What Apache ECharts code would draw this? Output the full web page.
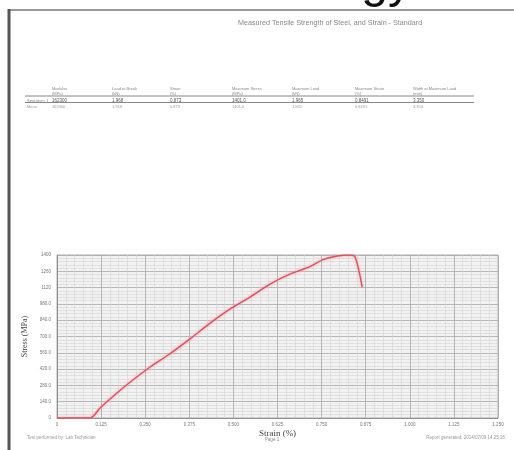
<!DOCTYPE html>
<html>
<head>
<meta charset="utf-8">
<script src="https://cdn.jsdelivr.net/npm/echarts@6/dist/echarts.min.js"></script>
<style>html,body{margin:0;padding:0;background:#fff;}#c{width:514px;height:450px;}</style>
</head>
<body>
<div id="c"></div>
<script>
// ---- data ----
const strainPct = [0, 0.0935, 0.122, 0.170, 0.215, 0.264, 0.315, 0.377, 0.434, 0.490, 0.547, 0.604, 0.660, 0.717, 0.754, 0.794, 0.830, 0.845, 0.865];
const stressMPa = [0, 0, 86, 215, 326, 438, 541, 680, 815, 935, 1039, 1150, 1235, 1300, 1360, 1391, 1400, 1383, 1125];
const xTicks = { min: 0, max: 1.25, step: 0.125 };
const yTicks = { min: 0, max: 1400, step: 140 };
const tableHeaders = ['Modulus', 'Load at Break', 'Strain', 'Maximum Stress', 'Maximum Load', 'Maximum Strain', 'Width at Maximum Load'];
const tableUnits = ['(MPa)', '(kN)', '(%)', '(MPa)', '(kN)', '(%)', '(mm)'];
const rowLabels = ['Specimen 1', 'Mean'];
const row1 = ['162300', '1.968', '0.873', '1401.0', '1.965', '0.8491', '3.350'];
const row2 = ['162300', '1.968', '0.873', '1401.0', '1.965', '0.8491', '3.350'];
const titleText = 'Measured Tensile Strength of Steel, and Strain - Standard';

// ---- layout ----
const colX = [52, 112, 170, 232, 292, 355, 413];
const graphics = [];
graphics.push({type:'line', shape:{x1:8, y1:10, x2:514, y2:10}, style:{stroke:'#9a9a9a', lineWidth:2}});
graphics.push({type:'line', shape:{x1:9, y1:9, x2:9, y2:450}, style:{stroke:'#555', lineWidth:3}});
graphics.push({type:'text', x:412, y:-40, style:{text:'Technology', font:'48px "Liberation Sans"', fill:'#111', align:'right', verticalAlign:'top'}});
graphics.push({type:'text', x:238, y:20, style:{text:titleText, font:'7.2px "Liberation Sans"', fill:'#888'}});
graphics.push({type:'line', shape:{x1:25, y1:96, x2:474, y2:96}, style:{stroke:'#888', lineWidth:1}});
graphics.push({type:'line', shape:{x1:25, y1:102.5, x2:474, y2:102.5}, style:{stroke:'#888', lineWidth:1}});
tableHeaders.forEach((h,i)=>{
  graphics.push({type:'text', x:colX[i], y:87, style:{text:h, font:'4px "Liberation Sans"', fill:'#888'}});
  graphics.push({type:'text', x:colX[i], y:91.5, style:{text:tableUnits[i], font:'4px "Liberation Sans"', fill:'#888'}});
  graphics.push({type:'text', x:colX[i], y:98.5, style:{text:row1[i], font:'4.5px "Liberation Sans"', fill:'#555'}});
  graphics.push({type:'text', x:colX[i], y:104.5, style:{text:row2[i], font:'4px "Liberation Sans"', fill:'#999'}});
});
graphics.push({type:'text', x:27, y:99, style:{text:rowLabels[0], font:'4px "Liberation Sans"', fill:'#888'}});
graphics.push({type:'text', x:27, y:104.5, style:{text:rowLabels[1], font:'4px "Liberation Sans"', fill:'#999'}});
graphics.push({type:'text', x:27, y:435, style:{text:'Test performed by: Lab Technician', font:'4.5px "Liberation Sans"', fill:'#999'}});
graphics.push({type:'text', x:272, y:437.5, style:{text:'Page 1', font:'4.5px "Liberation Sans"', fill:'#888', align:'center'}});
graphics.push({type:'text', x:505, y:435, style:{text:'Report generated: 2014/07/09 14:25:36', font:'4.5px "Liberation Sans"', fill:'#999', align:'right'}});

const chart = echarts.init(document.getElementById('c'), null, {renderer:'canvas'});
chart.setOption({
  animation: false,
  backgroundColor: '#fff',
  grid: {left:57, right:16, top:255, bottom:32, show:true, backgroundColor:'#f2f2f2', borderColor:'#999', borderWidth:0.8},
  xAxis: {
    type:'value', min:xTicks.min, max:xTicks.max, interval:xTicks.step,
    name:'Strain (%)', nameLocation:'middle', nameGap:11,
    nameTextStyle:{fontFamily:'Liberation Serif', fontSize:9, color:'#444'},
    axisLine:{show:true, onZero:false, lineStyle:{color:'#888', width:0.8}},
    axisTick:{show:false},
    axisLabel:{fontSize:4.5, color:'#777', margin:4, formatter:v=> v===0?'0':v.toFixed(3)},
    splitLine:{show:true, lineStyle:{color:'#a8a8a8', width:0.8}},
    minorTick:{show:false, splitNumber:5},
    minorSplitLine:{show:true, lineStyle:{color:'#d4d4d4', width:0.6}}
  },
  yAxis: {
    type:'value', min:yTicks.min, max:yTicks.max, interval:yTicks.step,
    name:'Stress (MPa)', nameLocation:'middle', nameGap:22, nameRotate:90,
    nameTextStyle:{fontFamily:'Liberation Serif', fontSize:8, color:'#444'},
    axisLine:{show:true, lineStyle:{color:'#888', width:0.8}},
    axisTick:{show:false},
    axisLabel:{fontSize:4.5, color:'#777', margin:6, formatter:v=> v===0?'0':(v>=1000?String(v):v.toFixed(1))},
    splitLine:{show:true, lineStyle:{color:'#a8a8a8', width:0.8}},
    minorTick:{show:false, splitNumber:5},
    minorSplitLine:{show:true, lineStyle:{color:'#d4d4d4', width:0.6}}
  },
  series: [{
    type:'line', data: strainPct.map((x,i)=>[x, stressMPa[i]]),
    showSymbol:false, smooth:0.3,
    lineStyle:{color:'#e0505c', width:1.4, shadowColor:'rgba(240,150,160,0.9)', shadowBlur:3}
  }],
  graphic: graphics
});
</script>
</body>
</html>
